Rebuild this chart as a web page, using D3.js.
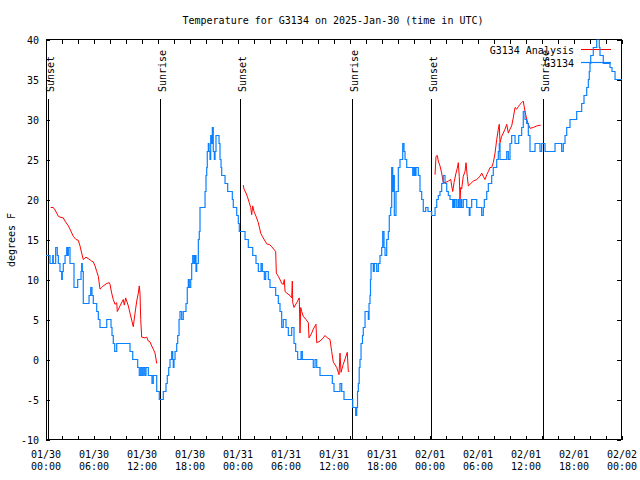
<!DOCTYPE html>
<html><head><meta charset="utf-8">
<script src="https://cdn.jsdelivr.net/npm/d3@7"></script>
<style>
body{margin:0;background:#fff}
text{font-family:"DejaVu Sans Mono",monospace;font-size:10px;fill:#000}
</style>
</head><body>
<svg id="chart" width="640" height="480"></svg>
<script>
// ---- data ----
const startTime = "2025-01-30T00:00:00Z";
const titleText = "Temperature for G3134 on 2025-Jan-30 (time in UTC)";
const yLabelText = "degrees F";
const seriesNames = ["G3134 Analysis", "G3134"];
const xLabelHours = [0, 6, 12, 18, 24, 30, 36, 42, 48, 54, 60, 66, 72];
const xLabelDates = ["01/30","01/30","01/30","01/30","01/31","01/31","01/31","01/31","02/01","02/01","02/01","02/01","02/02"];
const xLabelTimes = ["00:00","06:00","12:00","18:00","00:00","06:00","12:00","18:00","00:00","06:00","12:00","18:00","00:00"];
const xTickHours = [0,2,4,6,8,10,12,14,16,18,20,22,24,26,28,30,32,34,36,38,40,42,44,46,48,50,52,54,56,58,60,62,64,66,68,70,72];
const yTicks = [-10, -5, 0, 5, 10, 15, 20, 25, 30, 35, 40];
const sunNames = ["Sunset","Sunrise","Sunset","Sunrise","Sunset","Sunrise"];
const sunHours = [0.25, 14.25, 24.25, 38.25, 48.15, 62.15];

// observed (G3134), step changes
const obsHours = [0.00,0.50,0.84,0.91,1.21,1.41,1.54,1.75,1.96,2.04,2.16,2.38,2.59,2.71,2.79,3.00,3.50,3.96,4.38,4.46,4.54,4.66,5.38,5.59,5.75,5.91,6.34,6.54,6.75,7.59,8.13,8.25,8.41,8.59,8.84,10.50,10.84,11.46,11.66,11.84,12.00,12.16,12.34,12.50,12.79,13.25,13.41,13.84,14.16,14.66,15.00,15.16,15.34,15.50,15.71,15.84,15.91,16.00,16.13,16.34,16.46,16.63,16.75,16.96,17.16,17.50,17.66,17.79,17.91,18.09,18.21,18.34,18.50,18.63,18.75,18.84,19.04,19.16,19.25,19.88,20.00,20.09,20.16,20.29,20.38,20.50,20.59,20.71,20.79,20.91,21.04,21.13,21.25,21.63,21.75,21.88,21.96,22.38,22.71,23.29,23.41,23.84,24.04,24.16,24.88,25.29,25.84,26.25,26.54,26.88,27.04,27.29,27.46,27.79,28.00,28.71,29.04,29.25,29.46,29.66,30.00,30.29,30.71,31.00,31.21,31.46,31.88,32.04,33.41,33.63,33.84,34.25,35.79,36.00,36.75,36.96,37.25,38.34,38.71,38.84,38.94,39.04,39.15,39.25,39.38,39.56,39.66,39.88,40.29,40.38,40.50,40.56,40.63,40.91,41.04,41.34,41.54,41.75,41.96,42.09,42.25,42.38,42.59,42.79,42.91,43.09,43.21,43.34,43.41,43.54,43.75,44.04,44.25,44.59,44.75,44.88,45.09,45.84,46.00,46.13,46.25,46.54,46.75,46.96,47.16,47.46,47.75,48.21,48.63,48.84,49.04,49.25,49.46,49.66,49.88,50.09,50.29,50.50,50.84,50.91,51.04,51.13,51.34,51.54,51.66,51.84,51.96,52.16,52.59,52.91,53.00,53.21,53.84,54.46,54.66,54.79,55.09,55.29,55.71,55.91,56.34,56.54,56.66,56.75,57.59,57.79,58.00,58.21,58.63,59.09,59.46,59.66,59.88,60.09,60.29,60.50,61.13,61.75,61.96,62.38,63.63,64.46,64.66,64.88,65.09,65.50,66.34,66.96,67.25,67.59,67.79,67.91,68.00,68.09,68.41,68.84,69.16,69.25,69.66,70.50,70.75,71.13,72.00];
const obsTemps = [13,12,13,12,14,13,12,11,10,11,12,13,14,13,14,12,9,10,11,12,11,7,8,9,8,7,6,5,4,5,4,3,2,1,2,1,0,-1,-2,-1,-2,-1,-2,-1,-2,-3,-2,-4,-5,-4,-3,-2,-1,0,1,0,-1,0,1,2,3,5,6,5,6,7,9,10,9,10,12,13,12,13,11,12,15,16,19,21,23,24,26,27,26,25,28,27,29,26,25,26,28,27,25,24,23,22,21,20,19,18,17,16,15,14,13,12,11,12,11,10,11,10,9,8,7,6,4,5,4,3,4,2,1,0,1,0,-1,0,-1,-2,-3,-4,-3,-4,-5,-6,-7,-6,-4,-3,-1,0,2,3,4,6,5,7,8,10,12,11,12,11,12,13,14,16,14,13,15,16,18,19,24,21,23,18,21,24,25,27,26,25,24,23,24,23,24,23,21,20,18.5,19,18.5,18,19,20,20.5,21,22,23,22,21,20.5,20,19,20,19,20,19,20,19,20,19,20,19,18,19,20,19,18,19,20,21,22,23,24,25,26,27,25,26,25,27,28,27,28,29,31,30,29.5,28,26,27,26,27,26,27,26,27,28,29,30,31,32,33,34,35,36,37,38,39,40,39,38,37,36.5,36,35,35];

// analysis (G3134 Analysis), null = gap
const anaHours = [0.59,0.91,1.13,1.34,1.54,1.75,2.16,2.38,2.79,3.00,3.41,3.75,4.04,4.25,4.46,4.66,5.00,5.29,5.71,5.91,6.13,6.34,6.54,6.75,6.96,7.16,7.59,7.91,8.00,8.21,8.41,8.63,8.84,8.91,9.25,9.66,9.79,9.96,10.29,10.50,10.91,11.13,11.34,11.54,11.66,11.75,11.84,11.96,12.38,12.59,12.79,13.00,13.21,13.41,13.63,13.84,
  14.0,
  24.66,24.75,25.00,25.16,25.41,25.59,25.71,25.84,26.00,26.25,26.54,26.84,27.04,27.38,27.66,27.91,28.21,28.54,28.71,28.79,29.04,29.34,29.46,29.66,29.79,29.88,30.09,30.50,30.71,30.79,30.84,31.00,31.34,31.66,31.75,31.84,31.96,32.16,32.50,32.79,32.88,33.21,33.41,33.75,33.84,34.25,34.66,34.88,35.16,35.50,35.71,35.91,36.34,36.63,36.75,36.88,37.16,37.46,37.66,37.79,37.91,
  38.0,
  48.63,48.75,48.91,49.04,49.25,49.46,49.66,49.88,50.29,50.59,50.71,50.84,51.00,51.25,51.41,51.54,51.66,51.75,51.84,51.96,52.16,52.38,52.50,52.66,52.79,53.00,53.41,53.84,54.25,54.46,54.66,54.88,55.09,55.29,55.50,55.71,55.91,56.13,56.34,56.54,56.66,56.75,56.96,57.16,57.38,57.59,57.79,58.00,58.21,58.41,58.63,58.84,59.04,59.25,59.46,59.66,59.88,60.09,60.29,60.50,60.91,61.34,61.84];
const anaTemps = [19.0,19.0,18.7,18.3,17.9,17.8,17.7,17.3,16.7,16.3,15.4,15.0,14.9,14.2,13.3,12.5,12.8,12.6,12.3,12.2,11.7,11.0,10.4,8.8,9.0,9.2,9.5,9.6,9.4,8.3,7.5,6.9,7.1,6.0,6.7,7.5,6.8,7.7,6.7,5.8,4.1,5.8,7.3,8.3,9.2,8.3,5.0,2.8,2.7,2.8,2.3,2.2,1.7,1.3,0.8,-0.5,
  null,
  21.8,21.3,20.8,20.4,19.6,19.0,18.1,19.2,18.5,17.9,17.1,15.8,15.4,14.8,14.4,14.4,14.1,13.7,13.5,10.8,10.4,9.8,9.5,9.4,10.0,8.5,8.3,8.0,7.7,9.8,7.1,6.5,7.1,7.7,3.3,6.5,6.0,5.4,5.0,4.6,2.7,3.3,3.8,4.4,2.1,2.3,2.7,3.0,2.7,2.5,1.0,-0.3,-1.0,-1.9,0.8,-1.6,-0.6,0.3,0.9,-1.5,-1.5,
  null,
  23.1,25.4,25.5,24.8,24.2,23.3,22.1,22.1,22.3,22.5,21.7,21.0,22.1,23.3,23.9,24.6,22.9,20.0,21.5,21.3,22.9,23.5,24.6,22.9,21.7,21.9,22.3,22.5,22.9,23.3,22.9,22.5,23.1,23.5,24.0,24.0,24.6,25.8,27.5,28.8,29.4,27.1,27.9,28.3,28.8,29.4,28.3,28.8,29.2,30.2,31.5,31.3,31.6,31.9,32.1,32.3,31.0,30.0,29.4,28.9,29.0,29.2,29.3];

// ---- chart ----
const t0 = new Date(startTime).getTime();
const toDate = h => new Date(t0 + h * 3600e3);
const pLeft = 46, pRight = 622, pTop = 39.5, pBottom = 439.5;
const svg = d3.select("#chart");

const x = d3.scaleUtc().domain([toDate(0), toDate(72)]).range([pLeft, pRight]);
const y = d3.scaleLinear().domain([-10, 40]).range([pBottom, pTop]);

// frame
svg.append("rect").attr("x", pLeft + 0.5).attr("y", pTop).attr("width", pRight - pLeft - 1).attr("height", pBottom - pTop)
  .attr("fill", "none").attr("stroke", "#000").attr("stroke-width", 1).attr("shape-rendering", "crispEdges");

// ticks (inward, mirrored)
const tickDates = xTickHours.map(toDate);
const axB = svg.append("g").attr("transform", `translate(0,${pBottom})`)
  .call(d3.axisBottom(x).tickValues(tickDates).tickSize(-4).tickFormat(""));
const axT = svg.append("g").attr("transform", `translate(0,${pTop})`)
  .call(d3.axisTop(x).tickValues(tickDates).tickSize(-4).tickFormat(""));
const axL = svg.append("g").attr("transform", `translate(${pLeft},0)`)
  .call(d3.axisLeft(y).tickValues(yTicks).tickSize(-4).tickPadding(7).tickFormat(d => String(d)));
const axR = svg.append("g").attr("transform", `translate(${pRight - 1},0)`)
  .call(d3.axisRight(y).tickValues(yTicks).tickSize(-4).tickFormat(""));
[axB, axT, axL, axR].forEach(g => {
  g.select(".domain").remove();
  g.selectAll("line").attr("stroke", "#000").attr("shape-rendering", "crispEdges");
  g.attr("font-family", null).attr("font-size", null);
});
axL.selectAll("text").attr("fill", "#000").attr("dy", "0.35em");

// x labels (two lines)
const xl = svg.append("g");
xLabelHours.forEach((h, i) => {
  const t = xl.append("text").attr("text-anchor", "middle").attr("x", x(toDate(h)));
  t.append("tspan").attr("x", x(toDate(h))).attr("y", 458).text(xLabelDates[i]);
  t.append("tspan").attr("x", x(toDate(h))).attr("y", 470).text(xLabelTimes[i]);
});

// title & y label
svg.append("text").attr("x", 333).attr("y", 24).attr("text-anchor", "middle").text(titleText);
svg.append("text").attr("transform", "translate(15,240) rotate(-90)").attr("text-anchor", "middle").text(yLabelText);

// sunrise / sunset markers
sunHours.forEach((h, i) => {
  const sx = Math.round(x(toDate(h))) + 0.5;
  svg.append("line").attr("x1", sx).attr("x2", sx).attr("y1", 99).attr("y2", pBottom)
    .attr("stroke", "#000").attr("stroke-width", 1).attr("shape-rendering", "crispEdges");
  svg.append("text").attr("transform", `translate(${sx + 5},92) rotate(-90)`).attr("text-anchor", "start").text(sunNames[i]);
});

// clip
svg.append("clipPath").attr("id", "plotclip").append("rect")
  .attr("x", pLeft).attr("y", pTop).attr("width", pRight - pLeft).attr("height", pBottom - pTop);

const obsData = obsHours.map((h, i) => ({ t: toDate(h), v: obsTemps[i] }));
const anaData = anaHours.map((h, i) => ({ t: toDate(h), v: anaTemps[i] }));

const obsLine = d3.line().x(d => x(d.t)).y(d => y(d.v)).curve(d3.curveStepAfter);
const anaLine = d3.line().defined(d => d.v !== null).x(d => x(d.t)).y(d => y(d.v));

const blue = "#0a80ff", red = "#ff0000";

// legend
svg.append("text").attr("x", 574).attr("y", 53.5).attr("text-anchor", "end").text(seriesNames[0]);
svg.append("line").attr("x1", 581).attr("x2", 611).attr("y1", 49.5).attr("y2", 49.5).attr("stroke", red).attr("stroke-width", 1);
svg.append("text").attr("x", 574).attr("y", 66.5).attr("text-anchor", "end").text(seriesNames[1]);
svg.append("line").attr("x1", 581).attr("x2", 611).attr("y1", 62.5).attr("y2", 62.5).attr("stroke", blue).attr("stroke-width", 1.2);

const plot = svg.append("g").attr("clip-path", "url(#plotclip)");
plot.append("path").datum(anaData).attr("d", anaLine).attr("fill", "none").attr("stroke", red).attr("stroke-width", 1);
plot.append("path").datum(obsData).attr("d", obsLine).attr("fill", "none").attr("stroke", blue).attr("stroke-width", 1.2);
</script>
</body></html>
